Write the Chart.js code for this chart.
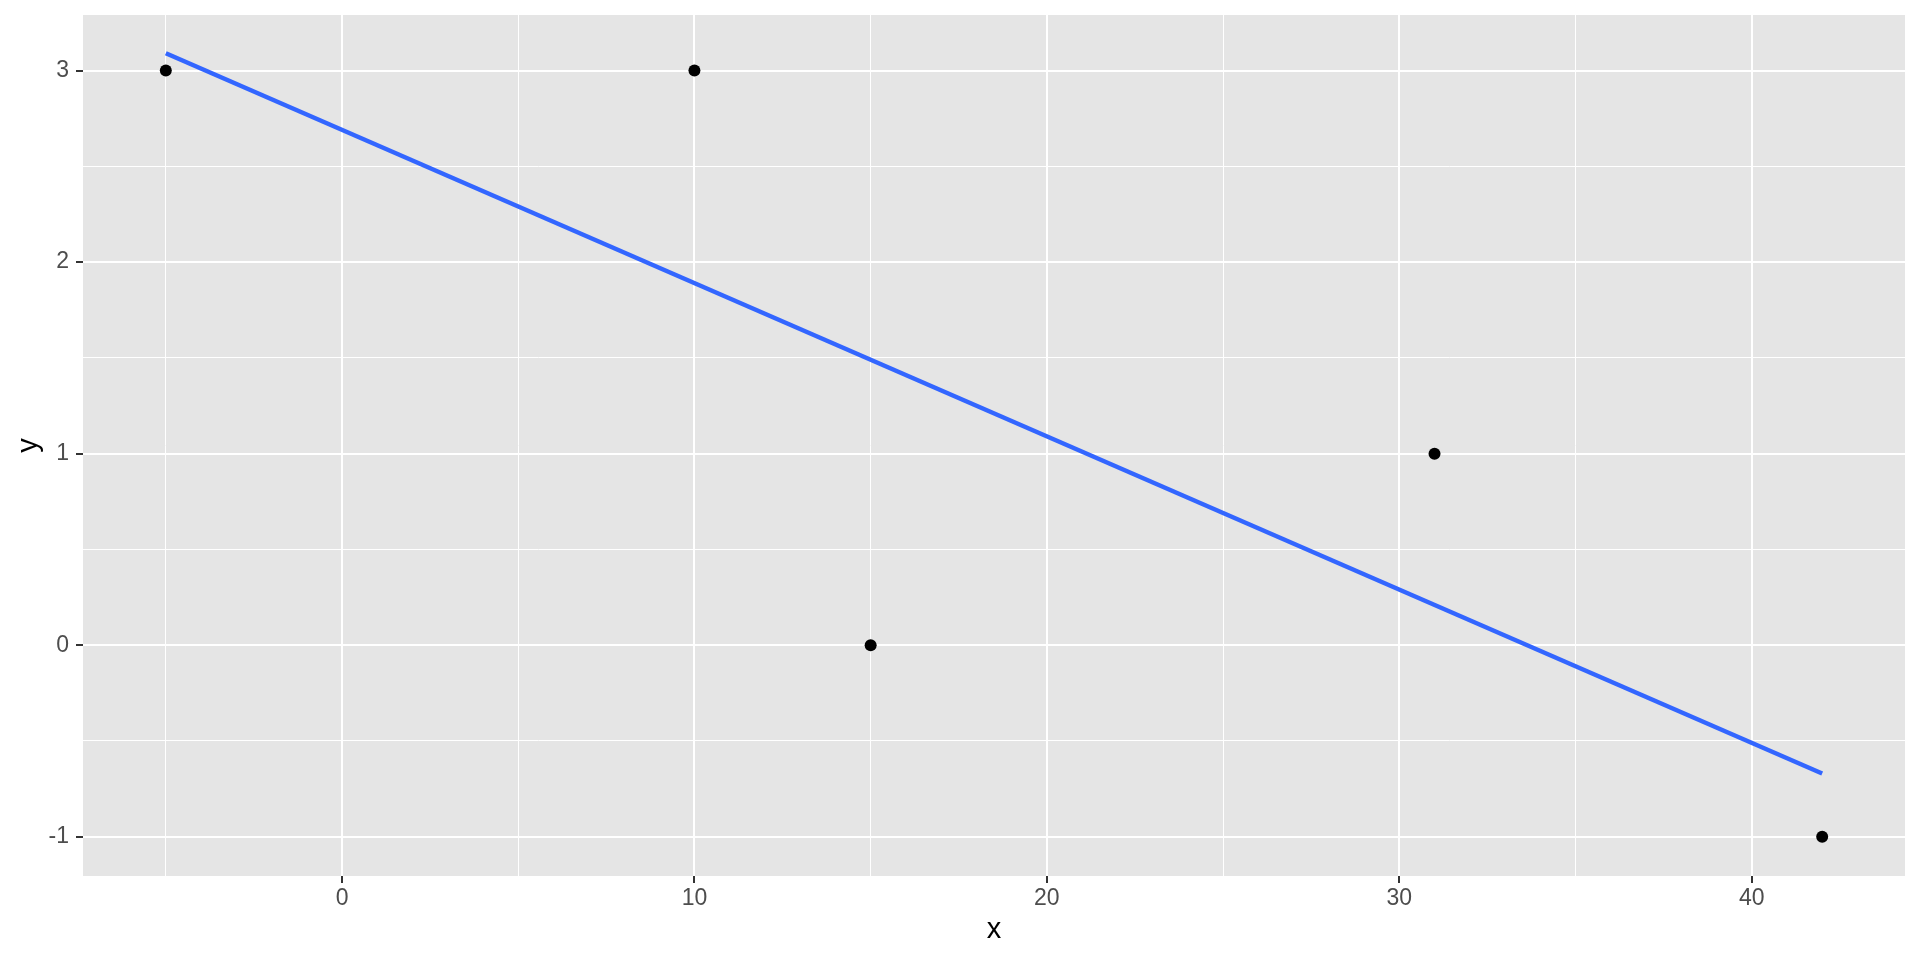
<!DOCTYPE html>
<html>
<head>
<meta charset="utf-8">
<script src="https://cdn.jsdelivr.net/npm/chart.js@4"></script>
<style>
  html, body { margin: 0; padding: 0; background: #fff; }
  #wrap { width: 1920px; height: 960px; }
</style>
</head>
<body>
<div id="wrap"><canvas id="chart"></canvas></div>
<script>
// observed points
const xValues = [-5, 10, 15, 31, 42];
const yValues = [3, 3, 0, 1, -1];

// fitted line at its two ends
const fitX = [-5, 42];
const fitY = [3.09, -0.67];

// tick positions
const xTicks = [-5, 0, 5, 10, 15, 20, 25, 30, 35, 40];
const xLabels = [0, 10, 20, 30, 40];
const yTicks = [-1, -0.5, 0, 0.5, 1, 1.5, 2, 2.5, 3];
const yLabels = [-1, 0, 1, 2, 3];

const FONT = '"Liberation Sans", Arial, Helvetica, sans-serif';

const panelBg = {
  id: 'panelBg',
  beforeDraw(chart) {
    const { ctx, chartArea: a } = chart;
    ctx.save();
    ctx.fillStyle = '#E5E5E5';
    ctx.fillRect(a.left, a.top, a.right - a.left, a.bottom - a.top);
    ctx.restore();
  }
};

const isMajor = (list, v) => list.includes(v);

const ctx = document.getElementById('chart').getContext('2d');
const chart = new Chart(ctx, {
  type: 'scatter',
  data: {
    datasets: [
      {
        label: 'points',
        data: xValues.map((x, i) => ({ x: x, y: yValues[i] })),
        backgroundColor: '#000000',
        borderWidth: 0,
        pointRadius: 6,
        pointHoverRadius: 6
      },
      {
        label: 'fit',
        type: 'line',
        data: fitX.map((x, i) => ({ x: x, y: fitY[i] })),
        borderColor: '#3366FF',
        borderWidth: 4.5,
        pointRadius: 0,
        fill: false,
        tension: 0
      }
    ]
  },
  options: {
    responsive: true,
    maintainAspectRatio: false,
    animation: false,
    layout: { padding: { left: 0, right: 15, top: 15, bottom: 0 } },
    plugins: {
      legend: { display: false },
      tooltip: { enabled: false }
    },
    scales: {
      x: {
        type: 'linear',
        min: -7.35,
        max: 44.35,
        afterBuildTicks: s => { s.ticks = xTicks.map(v => ({ value: v })); },
        afterFit: s => { s.height = 84; s.paddingLeft = 0; s.paddingRight = 0; },
        border: { display: false },
        grid: {
          color: '#FFFFFF',
          lineWidth: c => isMajor(xLabels, c.tick.value) ? 2 : 1,
          tickColor: c => isMajor(xLabels, c.tick.value) ? '#333333' : 'rgba(0,0,0,0)',
          tickLength: 7,
          tickWidth: 2
        },
        ticks: {
          autoSkip: false,
          maxRotation: 0,
          padding: 2,
          color: '#4D4D4D',
          font: { family: FONT, size: 23 },
          callback: v => isMajor(xLabels, v) ? String(v) : ''
        },
        title: {
          display: true,
          text: 'x',
          color: '#000000',
          font: { family: FONT, size: 29 },
          padding: { top: 0, bottom: 13 }
        }
      },
      y: {
        type: 'linear',
        min: -1.205,
        max: 3.29,
        afterBuildTicks: s => { s.ticks = yTicks.map(v => ({ value: v })); },
        afterFit: s => { s.width = 83; s.paddingTop = 0; s.paddingBottom = 0; },
        border: { display: false },
        grid: {
          color: '#FFFFFF',
          lineWidth: c => isMajor(yLabels, c.tick.value) ? 2 : 1,
          tickColor: c => isMajor(yLabels, c.tick.value) ? '#333333' : 'rgba(0,0,0,0)',
          tickLength: 7,
          tickWidth: 2
        },
        ticks: {
          autoSkip: false,
          padding: 7,
          color: '#4D4D4D',
          font: { family: FONT, size: 23 },
          callback: v => isMajor(yLabels, v) ? String(v) : ''
        },
        title: {
          display: true,
          text: 'y',
          color: '#000000',
          font: { family: FONT, size: 29 },
          padding: { top: 12, bottom: 0 }
        }
      }
    }
  },
  plugins: [panelBg]
});
</script>
</body>
</html>
